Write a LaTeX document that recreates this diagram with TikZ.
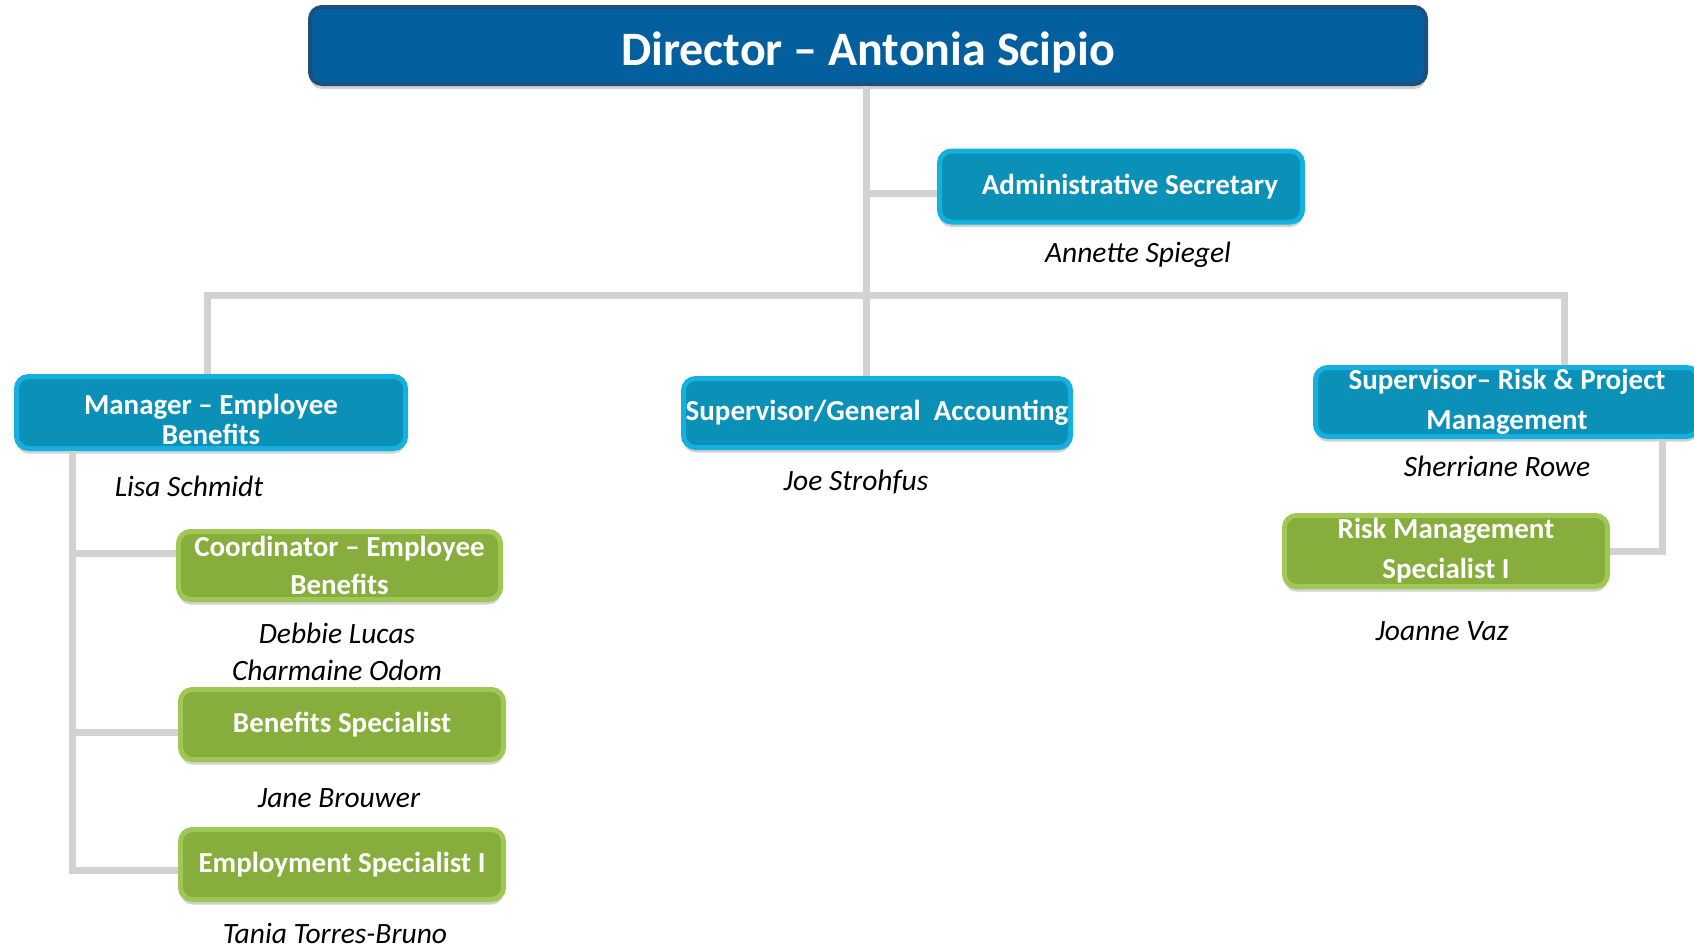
\documentclass[tikz,border=0pt]{standalone}
\usepackage{fontspec}
\setmainfont{Carlito}
\usetikzlibrary{positioning, shadows}
\definecolor{dirblue}{HTML}{035F9D}
\definecolor{dirline}{HTML}{1A4F7E}
\definecolor{boxblue}{HTML}{0B91B7}
\definecolor{blueline}{HTML}{14B0DE}
\definecolor{boxgreen}{HTML}{87AD3D}
\definecolor{greenline}{HTML}{9EC853}
\definecolor{linkgray}{HTML}{D2D2D2}
\tikzstyle{block} = [rectangle, rounded corners=12pt, line width=5pt,
    text=white, font=\bfseries\fontsize{29}{30}\selectfont, align=center,
    inner xsep=1pt, inner ysep=0pt,
    drop shadow={shadow xshift=0pt, shadow yshift=-5pt, opacity=0.3, fill=black!60}]
\tikzstyle{topbox} = [block, fill=dirblue, draw=dirline, line width=4pt,
    font=\bfseries\fontsize{48}{48}\selectfont, text height=43pt, text depth=3pt]
\tikzstyle{bluebox} = [block, fill=boxblue, draw=blueline]
\tikzstyle{greenbox} = [block, fill=boxgreen, draw=greenline]
\tikzstyle{person} = [font=\itshape\fontsize{29.5}{29.5}\selectfont, inner sep=0pt,
    text height=21pt, text depth=6pt]
\tikzstyle{link} = [draw=linkgray, line width=7pt]

\begin{document}
\begin{tikzpicture}[x=1pt, y=-1pt]
        \useasboundingbox (0,0) rectangle (1694,948);

        \node[topbox, minimum width=1116pt, minimum height=77pt] (director) at (868,45.5)
            {Director -- Antonia Scipio};

        \node[bluebox, minimum width=363pt, minimum height=71pt] (admin) at (1121,186.5)
            {\hspace{18pt}Administrative Secretary};
        \node[person, below of=admin, node distance=68.5pt, xshift=17pt] (annette) {Annette Spiegel};

        \node[bluebox, minimum width=389pt, minimum height=72pt] (manager) at (211,412.5)
            {\rule{0pt}{34pt}Manager -- Employee\\Benefits};
        \node[person, below of=manager, node distance=76.5pt, xshift=-22pt] (lisa) {Lisa Schmidt};

        \node[bluebox, minimum width=387pt, minimum height=69pt] (accounting) at (877,413)
            {Supervisor/General\ \ Accounting};
        \node[person, below of=accounting, node distance=70pt, xshift=-21pt] (joe) {Joe Strohfus};

        \node[bluebox, minimum width=383pt, minimum height=69pt,
            font=\bfseries\fontsize{29}{40}\selectfont] (risksup) at (1507,402)
            {Supervisor-- Risk \& Project\\Management};
        \node[person, below of=risksup, node distance=67pt, xshift=-10pt] (sherriane) {Sherriane Rowe};

        \node[greenbox, minimum width=323pt, minimum height=71pt,
            font=\bfseries\fontsize{29}{40}\selectfont] (riskspec) at (1446,551)
            {Risk Management\\Specialist I};
        \node[person, below of=riskspec, node distance=82pt, xshift=-4pt] (joanne) {Joanne Vaz};

        \node[greenbox, minimum width=322pt, minimum height=68pt,
            font=\bfseries\fontsize{29}{38}\selectfont] (coord) at (339.5,565.5)
            {Coordinator -- Employee\\Benefits};
        \node[person, below of=coord, node distance=70.5pt, xshift=-2.5pt] (debbie) {Debbie Lucas};
        \node[person, below of=debbie, node distance=37pt] (charmaine) {Charmaine Odom};

        \node[greenbox, minimum width=323pt, minimum height=70pt] (benefits) at (342,724.5)
            {Benefits Specialist};
        \node[person, below of=benefits, node distance=75.5pt, xshift=-3pt] (jane) {Jane Brouwer};

        \node[greenbox, minimum width=323pt, minimum height=70pt] (employment) at (342,864.5)
            {Employment Specialist I};
        \node[person, below of=employment, node distance=71.5pt, xshift=-7pt] (tania) {Tania Torres-Bruno};

        % connectors
        \coordinate (bus) at (866,295);
        \coordinate (busleft) at (207,295);
        \coordinate (busright) at (1564,295);
        \coordinate (mgrline) at (72,0);
        \coordinate (riskline) at (1662,0);

        \draw[link] (director.south -| bus) -- (accounting.north -| bus);
        \draw[link] ([yshift=-6.5pt]admin.west) -- ([yshift=-6.5pt]admin.west -| bus);
        \draw[link] (manager.north -| busleft) -- (busleft) -- (busright) -- (risksup.north -| busright);
        \draw[link] (risksup.south -| riskline) |- (riskspec.east);
        \draw[link] (manager.south -| mgrline) |- ([yshift=-5.5pt]employment.west);
        \draw[link] ([yshift=12pt]coord.west) -- ([yshift=12pt]coord.west -| mgrline);
        \draw[link] ([yshift=-7.5pt]benefits.west) -- ([yshift=-7.5pt]benefits.west -| mgrline);
    \end{tikzpicture}
\end{document}
